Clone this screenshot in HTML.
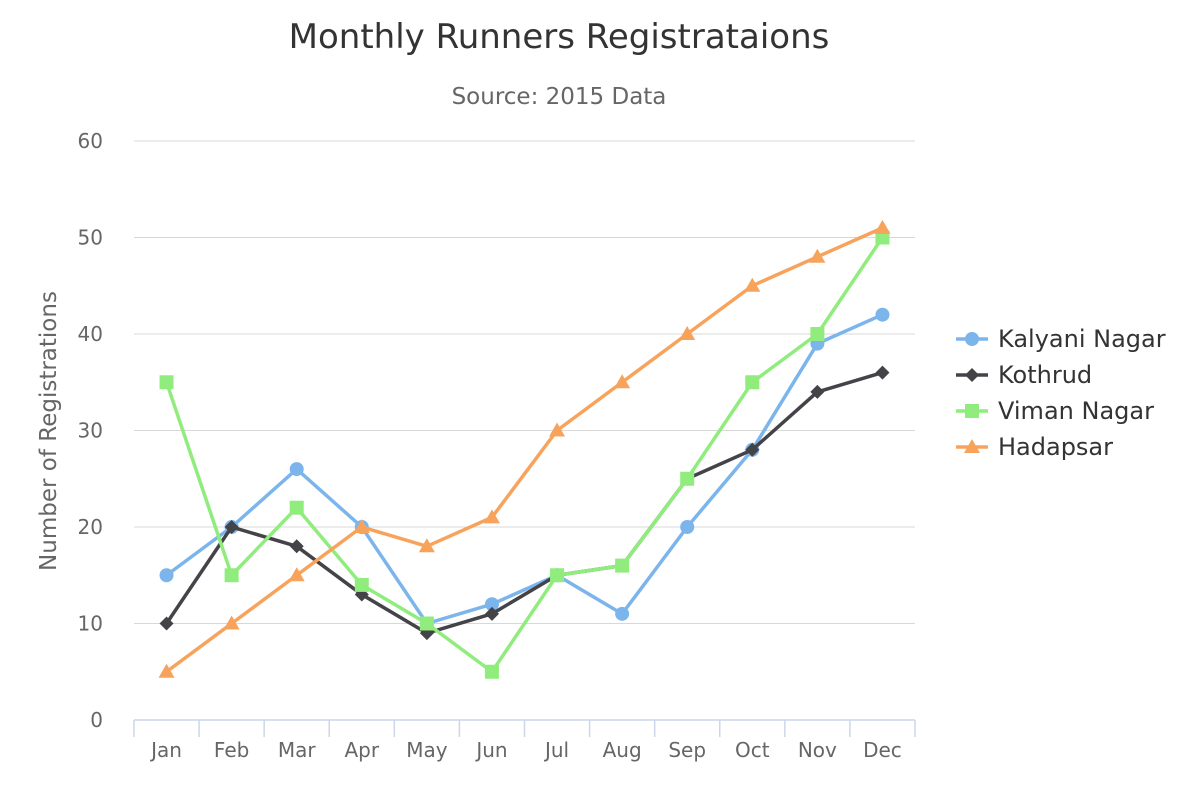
<!DOCTYPE html>
<html><head><meta charset="utf-8"><style>
html,body{margin:0;padding:0;background:#fff;}
svg{display:block;font-family:"DejaVu Sans","Liberation Sans",sans-serif;}
</style></head><body>
<svg id="chart" width="1200" height="800">
<text x="559" y="48" text-anchor="middle" font-size="34" fill="#333">Monthly Runners Registrataions</text>
<text x="559" y="104" text-anchor="middle" font-size="23" fill="#666">Source: 2015 Data</text>
<text transform="translate(56,431) rotate(-90)" text-anchor="middle" font-size="23" fill="#666">Number of Registrations</text>
<g id="grid"></g><g id="xaxis"></g><g id="series"></g><g id="legend"></g>
</svg>
<script>
const categories=["Jan","Feb","Mar","Apr","May","Jun","Jul","Aug","Sep","Oct","Nov","Dec"];
const yTicks=[0,10,20,30,40,50,60];
const seriesNames=["Kalyani Nagar","Kothrud","Viman Nagar","Hadapsar"];
const kalyani=[15,20,26,20,10,12,15,11,20,28,39,42];
const kothrud=[10,20,18,13,9,11,15,16,25,28,34,36];
const viman=[35,15,22,14,10,5,15,16,25,35,40,50];
const hadapsar=[5,10,15,20,18,21,30,35,40,45,48,51];
const colors=["#7cb5ec","#434348","#90ed7d","#f7a35c"];
const markers=["circle","diamond","square","triangle"];
const NS="http://www.w3.org/2000/svg";
const L=134,R=915,T=141,B=720;
const bw=(R-L)/categories.length;
const xS=i=>L+bw*(i+0.5);
const yS=v=>B-(v/60)*(B-T);
function mk(tag,attrs,parent){const e=document.createElementNS(NS,tag);for(const k in attrs)e.setAttribute(k,attrs[k]);parent.appendChild(e);return e;}
const grid=document.getElementById('grid');
yTicks.forEach(t=>{
  if(t>0){const l=mk('line',{x1:L,x2:R,y1:yS(t),y2:yS(t),stroke:'#d8d8d8','stroke-width':1},grid);
  
  }
  const tx=mk('text',{x:103,y:yS(t)+7,'text-anchor':'end','font-size':20,fill:'#666'},grid);
  tx.textContent=t;
  
  
});
const xa=document.getElementById('xaxis');
const ax=mk('line',{x1:L,x2:R,y1:B,y2:B,stroke:'#ccd6eb','stroke-width':1.5},xa);


for(let i=0;i<=categories.length;i++){mk('line',{x1:L+bw*i,x2:L+bw*i,y1:B,y2:B+17,stroke:'#ccd6eb','stroke-width':1.5},xa);}
categories.forEach((c,i)=>{
  const t=mk('text',{x:xS(i),y:757,'text-anchor':'middle','font-size':20,fill:'#666'},xa);
  t.textContent=c;
  
  
});
function marker(type,x,y,color,parent){
  if(type==='circle')return mk('circle',{cx:x,cy:y,r:7,fill:color},parent);
  if(type==='diamond')return mk('path',{d:`M${x} ${y-7}L${x+7} ${y}L${x} ${y+7}L${x-7} ${y}Z`,fill:color},parent);
  if(type==='square')return mk('rect',{x:x-7,y:y-7,width:14,height:14,fill:color},parent);
  return mk('path',{d:`M${x} ${y-8}L${x+8} ${y+6}L${x-8} ${y+6}Z`,fill:color},parent);
}
const sg=document.getElementById('series');
[kalyani,kothrud,viman,hadapsar].forEach((data,s)=>{
  const g=mk('g',{},sg);
  
  
  mk('path',{d:data.map((v,i)=>(i?'L':'M')+xS(i)+' '+yS(v)).join(''),fill:'none',stroke:colors[s],'stroke-width':3.5,'stroke-linejoin':'round'},g);
  data.forEach((v,i)=>{const m=marker(markers[s],xS(i),yS(v),colors[s],g);
    
    });
});
const lg=document.getElementById('legend');
seriesNames.forEach((n,s)=>{
  const y=339+36*s;
  const g=mk('g',{},lg);
  
  
  mk('line',{x1:956,x2:988,y1:y,y2:y,stroke:colors[s],'stroke-width':3.5},g);
  marker(markers[s],972,y,colors[s],g);
  const t=mk('text',{x:998,y:y+8,'font-size':24,fill:'#333'},g);
  t.textContent=n;
});
</script>
</body></html>
